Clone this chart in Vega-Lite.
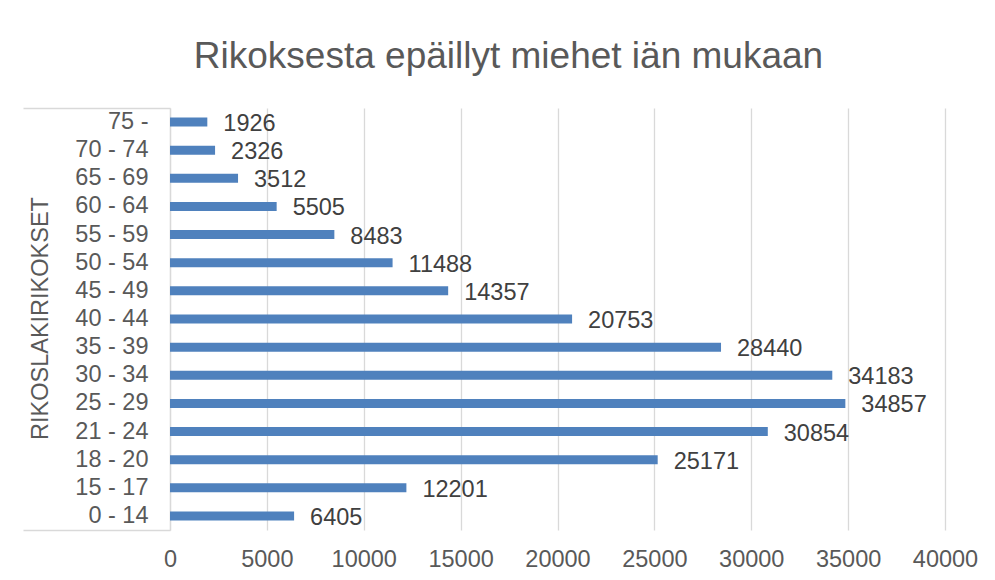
{
  "$schema": "https://vega.github.io/schema/vega-lite/v6.json",
  "autosize": "none",
  "width": 775,
  "height": 422,
  "padding": {"left": 170, "top": 108, "right": 50, "bottom": 50},
  "background": "white",
  "config": {
    "font": "Liberation Sans",
    "view": {"stroke": null}
  },
  "title": {
    "text": "Rikoksesta epäillyt miehet iän mukaan",
    "fontSize": 37,
    "font": "Liberation Sans",
    "fontWeight": "normal",
    "color": "#595959",
    "anchor": "middle",
    "baseline": "alphabetic",
    "offset": 40,
    "dx": -49,
    "dy": 38
  },
  "data": {
    "values": [
      {"ika": "75 -", "maara": 1926},
      {"ika": "70 - 74", "maara": 2326},
      {"ika": "65 - 69", "maara": 3512},
      {"ika": "60 - 64", "maara": 5505},
      {"ika": "55 - 59", "maara": 8483},
      {"ika": "50 - 54", "maara": 11488},
      {"ika": "45 - 49", "maara": 14357},
      {"ika": "40 - 44", "maara": 20753},
      {"ika": "35 - 39", "maara": 28440},
      {"ika": "30 - 34", "maara": 34183},
      {"ika": "25 - 29", "maara": 34857},
      {"ika": "21 - 24", "maara": 30854},
      {"ika": "18 - 20", "maara": 25171},
      {"ika": "15 - 17", "maara": 12201},
      {"ika": "0 - 14", "maara": 6405}
    ]
  },
  "encoding": {
    "x": {
      "field": "maara",
      "type": "quantitative",
      "scale": {"domain": [0, 40000], "nice": false},
      "axis": {
        "title": null,
        "values": [0, 5000, 10000, 15000, 20000, 25000, 30000, 35000, 40000],
        "format": "d",
        "labelOverlap": false,
        "labelFlush": false,
        "labelFontSize": 23.5,
        "labelColor": "#595959",
        "labelPadding": 17,
        "domain": false,
        "ticks": false,
        "grid": true,
        "gridColor": "#d9d9d9",
        "gridWidth": 1.3
      }
    }
  },
  "layer": [
    {
      "mark": {"type": "bar", "size": 9, "color": "#4f81bd"},
      "encoding": {
        "y": {
          "field": "ika",
          "type": "nominal",
          "sort": null,
          "scale": {"paddingInner": 0, "paddingOuter": 0},
          "axis": {
            "orient": "left",
            "title": "RIKOSLAKIRIKOKSET",
            "titleFontSize": 23.5,
            "titleFontWeight": "normal",
            "titleColor": "#595959",
            "titleAngle": -90,
            "titleAlign": "center",
            "titleBaseline": "alphabetic",
            "titleX": -123,
            "titleY": 210,
            "labelFontSize": 23.5,
            "labelColor": "#595959",
            "labelAlign": "right",
            "labelPadding": 22,
            "domain": true,
            "domainColor": "#d9d9d9",
            "domainWidth": 1.3,
            "ticks": false,
            "grid": false
          }
        }
      }
    },
    {
      "mark": {
        "type": "text",
        "align": "left",
        "baseline": "middle",
        "dx": 16,
        "dy": 2,
        "fontSize": 23.5,
        "color": "#404040"
      },
      "encoding": {
        "y": {
          "field": "ika",
          "type": "nominal",
          "sort": null,
          "axis": {
            "orient": "left",
            "title": null,
            "values": ["75 -"],
            "bandPosition": 0,
            "labels": false,
            "domain": false,
            "ticks": true,
            "tickSize": 147,
            "tickColor": "#d9d9d9",
            "tickWidth": 1.3,
            "grid": false
          }
        },
        "text": {"field": "maara", "type": "quantitative", "format": "d"}
      }
    },
    {
      "mark": {"type": "point", "opacity": 0},
      "encoding": {
        "y": {
          "field": "ika",
          "type": "nominal",
          "sort": null,
          "axis": {
            "orient": "left",
            "title": null,
            "values": ["0 - 14"],
            "bandPosition": 1,
            "labels": false,
            "domain": false,
            "ticks": true,
            "tickSize": 147,
            "tickColor": "#d9d9d9",
            "tickWidth": 1.3,
            "grid": false
          }
        }
      }
    }
  ],
  "resolve": {"axis": {"y": "independent"}}
}
